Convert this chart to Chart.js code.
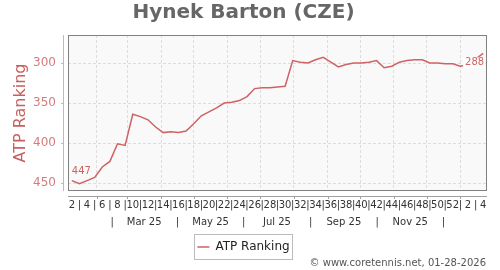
<!DOCTYPE html>
<html>
<head>
<meta charset="utf-8">
<script src="https://cdn.jsdelivr.net/npm/chart.js@4"></script>
<style>
  body { margin: 0; background: #fff; }
  canvas { display: block; }
</style>
</head>
<body>
<canvas id="chart" width="500" height="270"></canvas>
<script>
// ISO week of each ranking, Jan 2025 .. Jan 2026
const weekNumbers = [2, 3, 4, 5, 6, 7, 8, 9, 10, 11, 12, 13, 14, 15, 16, 17, 18, 19, 20, 21,
  22, 23, 24, 25, 26, 27, 28, 29, 30, 31, 32, 33, 34, 35, 36, 37, 38, 39, 40, 41,
  42, 43, 44, 45, 46, 47, 48, 49, 50, 51, 52, 1, 2, 3, 4];
// ATP ranking per week
const ranking = [447, 451, 447, 443, 430, 423, 401, 403, 364, 367, 371, 380, 387, 386, 387,
  385, 376, 366, 361, 356, 350, 349, 347, 342, 332, 331, 331, 330, 329, 297,
  299, 300, 296, 293, 299, 305, 302, 300, 300, 299, 297, 306, 304, 299, 297,
  296, 296, 300, 300, 301, 301, 304, 302, 295, 288];
const firstWeekDate = "2025-01-09";
// month starts used for vertical grid lines
const monthStarts = ["2025-02-01", "2025-03-01", "2025-04-01", "2025-05-01", "2025-06-01",
  "2025-07-01", "2025-08-01", "2025-09-01", "2025-10-01", "2025-11-01", "2025-12-01", "2026-01-01"];
// labels in the month row (one per month, Feb .. Dec)
const monthLabels = ["|", "Mar 25", "|", "May 25", "|", "Jul 25", "|", "Sep 25", "|", "Nov 25", "|"];
const yTicks = [300, 350, 400, 450];

const lineColor = "#cf6262";

// week index of a date
const weekIndex = (d) => (new Date(d) - new Date(firstWeekDate)) / (7 * 864e5);
const gridPos = monthStarts.map(weekIndex);
const monthMid = monthLabels.map((_, i) => (gridPos[i] + gridPos[i + 1]) / 2);

Chart.defaults.font.family = "'DejaVu Sans', sans-serif";

const decor = {
  id: "decor",
  beforeDraw(chart) {
    const { ctx, chartArea: a } = chart;
    ctx.save();
    ctx.fillStyle = "#f9f9f9";
    ctx.fillRect(a.left, a.top, a.width, a.height);
    ctx.restore();
  },
  afterDatasetsDraw(chart) {
    const { ctx } = chart;
    const pts = chart.getDatasetMeta(0).data;
    const first = pts[0], last = pts[pts.length - 1];
    ctx.save();
    ctx.font = "10px 'DejaVu Sans'";
    ctx.textBaseline = "middle";
    ctx.fillStyle = lineColor;
    ctx.textAlign = "left";
    ctx.fillText(String(ranking[0]), first.x, first.y - 9);
    const txt = String(ranking[ranking.length - 1]);
    const w = ctx.measureText(txt).width;
    ctx.fillStyle = "#fff";
    ctx.fillRect(last.x + 1 - w - 2, last.y + 4, w + 3, 11);
    ctx.fillStyle = lineColor;
    ctx.textAlign = "right";
    ctx.fillText(txt, last.x + 1, last.y + 9.5);
    ctx.restore();
  },
  afterDraw(chart) {
    const { ctx, chartArea: a } = chart;
    ctx.save();
    // plot frame
    ctx.strokeStyle = "#808080";
    ctx.lineWidth = 1;
    ctx.strokeRect(a.left + 0.5, a.top + 0.5, a.width - 1, a.height - 1);
    // y axis line with ticks
    const y = chart.scales.y;
    ctx.strokeStyle = "#e2abab";
    ctx.beginPath();
    ctx.moveTo(a.left - 4.5, a.top);
    ctx.lineTo(a.left - 4.5, a.bottom);
    yTicks.forEach((v) => {
      const py = Math.round(y.getPixelForValue(v)) + 0.5;
      ctx.moveTo(a.left - 7, py);
      ctx.lineTo(a.left - 4.5, py);
    });
    ctx.stroke();
    // lower x axis line with month ticks
    const x = chart.scales.x;
    ctx.strokeStyle = "#a0a0a0";
    ctx.beginPath();
    ctx.moveTo(a.left, a.bottom + 5.5);
    ctx.lineTo(a.right, a.bottom + 5.5);
    gridPos.forEach((v) => {
      const px = Math.round(x.getPixelForValue(v)) + 0.5;
      ctx.moveTo(px, a.bottom + 5.5);
      ctx.lineTo(px, a.bottom + 8);
    });
    ctx.stroke();
    // legend frame
    const hb = chart.legend.legendHitBoxes[0];
    if (hb) {
      const cy = Math.round(hb.top + hb.height / 2);
      ctx.strokeStyle = "#bbb";
      ctx.strokeRect(Math.round(hb.left) - 2.5, cy - 12.5, Math.round(hb.width) + 6, 25);
    }
    // watermark
    ctx.fillStyle = "#555";
    ctx.font = "10px 'DejaVu Sans'";
    ctx.textAlign = "right";
    ctx.textBaseline = "middle";
    ctx.fillText("\u00a9 www.coretennis.net, 01-28-2026", 486, 263);
    ctx.restore();
  }
};

new Chart(document.getElementById("chart"), {
  type: "line",
  data: {
    datasets: [{
      label: "ATP Ranking",
      data: ranking.map((v, i) => ({ x: i, y: v })),
      borderColor: lineColor,
      backgroundColor: lineColor,
      borderWidth: 1.5,
      pointRadius: 0,
      tension: 0
    }]
  },
  options: {
    responsive: false,
    animation: false,
    layout: { padding: { left: 0, right: 13, top: 0, bottom: 7 } },
    plugins: {
      title: {
        display: true,
        text: "Hynek Barton (CZE)",
        color: "#666",
        font: { size: 20, weight: "bold" },
        padding: { top: 1, bottom: 10 }
      },
      legend: {
        position: "bottom",
        labels: {
          color: "#222",
          font: { size: 12 },
          usePointStyle: true,
          pointStyle: "line",
          pointStyleWidth: 12,
          padding: 10
        }
      },
      tooltip: { enabled: false }
    },
    scales: {
      x: {
        type: "linear",
        min: -0.5,
        max: weekNumbers.length - 0.5,
        weight: 0,
        grid: { color: "#ddd", drawTicks: false },
        border: { display: false, dash: [3, 2] },
        ticks: { display: false },
        afterBuildTicks: (s) => { s.ticks = gridPos.map((v) => ({ value: v })); },
        afterFit: (s) => { s.height = 0; }
      },
      xWeeks: {
        type: "linear",
        position: "bottom",
        min: -0.5,
        max: weekNumbers.length - 0.5,
        weight: 1,
        grid: { display: false, drawTicks: false },
        border: { display: false },
        afterBuildTicks: (s) => { s.ticks = weekNumbers.map((_, i) => ({ value: i })); },
        afterFit: (s) => { s.height = 20; },
        ticks: {
          autoSkip: false,
          maxRotation: 0,
          padding: 8,
          color: "#333",
          font: { size: 10 },
          callback: (v, i) => (weekNumbers[i] % 2 === 0 ? String(weekNumbers[i]) : "|")
        }
      },
      xMonths: {
        type: "linear",
        position: "bottom",
        min: -0.5,
        max: weekNumbers.length - 0.5,
        weight: 2,
        grid: { display: false, drawTicks: false },
        border: { display: false },
        afterBuildTicks: (s) => { s.ticks = monthMid.map((v) => ({ value: v })); },
        afterFit: (s) => { s.height = 20; },
        ticks: {
          autoSkip: false,
          maxRotation: 0,
          padding: 5,
          color: "#333",
          font: { size: 10 },
          callback: (v, i) => monthLabels[i]
        }
      },
      y: {
        type: "linear",
        reverse: true,
        min: 265,
        max: 460,
        afterBuildTicks: (s) => { s.ticks = yTicks.map((v) => ({ value: v })); },
        afterFit: (s) => { s.width = 68; },
        grid: { color: "#ddd", drawTicks: false },
        border: { display: false, dash: [3, 2] },
        ticks: { padding: 12, color: "#d47c7c", font: { size: 12 } },
        title: {
          display: true,
          text: "ATP Ranking",
          color: "#c95f5f",
          font: { size: 16 },
          padding: { top: 11, bottom: 3 }
        }
      }
    }
  },
  plugins: [decor]
});
</script>
</body>
</html>
